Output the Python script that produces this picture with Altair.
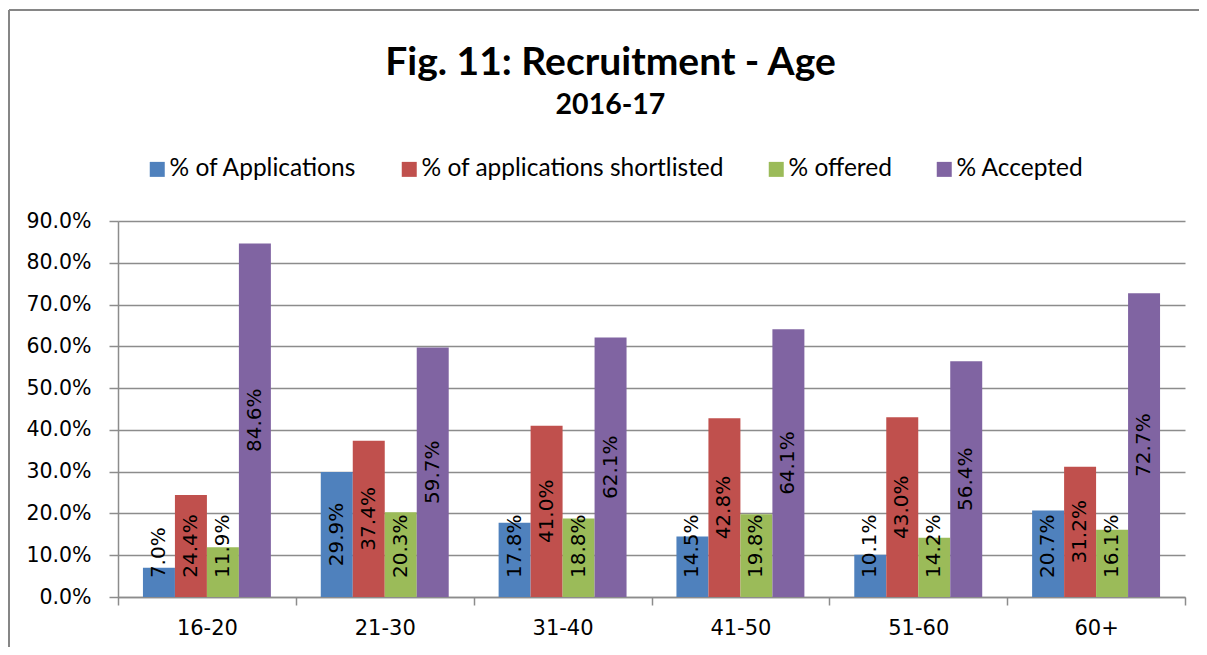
import altair as alt
import pandas as pd

categories = ["16-20", "21-30", "31-40", "41-50", "51-60", "60+"]
series_names = ["% of Applications", "% of applications shortlisted", "% offered", "% Accepted"]
applications = [7.0, 29.9, 17.8, 14.5, 10.1, 20.7]
shortlisted = [24.4, 37.4, 41.0, 42.8, 43.0, 31.2]
offered = [11.9, 20.3, 18.8, 19.8, 14.2, 16.1]
accepted = [84.6, 59.7, 62.1, 64.1, 56.4, 72.7]
colors = ["#4F81BD", "#C0504D", "#9BBB59", "#8064A2"]

rows = []
for s_idx, (name, vals) in enumerate(zip(series_names, [applications, shortlisted, offered, accepted])):
    for c, v in zip(categories, vals):
        rows.append({"age": c, "series": name, "order": s_idx, "value": v, "label": f"{v:.1f}%"})
df = pd.DataFrame(rows)

GRID = "#8c8c8c"
W, H = 1067, 376

x_enc = alt.X("age:N", sort=categories, title=None,
              scale=alt.Scale(paddingInner=0, paddingOuter=0),
              axis=alt.Axis(labelAngle=0, labelFont="DejaVu Sans", labelFontSize=21,
                            labelColor="black", tickBand="extent", tickSize=8,
                            tickColor=GRID, tickWidth=1.5, domainColor=GRID,
                            domainWidth=1.5, labelPadding=12, grid=False))
xoff = alt.XOffset("series:N", sort=series_names,
                   scale=alt.Scale(paddingInner=0, paddingOuter=0.78))

bars = alt.Chart(df).mark_bar().encode(
    x=x_enc,
    xOffset=xoff,
    y=alt.Y("value:Q", title=None,
            scale=alt.Scale(domain=[0, 90], nice=False),
            axis=alt.Axis(values=[0, 10, 20, 30, 40, 50, 60, 70, 80, 90],
                          labelExpr="format(datum.value, '.1f') + '%'",
                          labelFont="DejaVu Sans", labelFontSize=20.5, labelColor="black",
                          tickSize=9, tickColor=GRID, tickWidth=1.5,
                          domainColor=GRID, domainWidth=1.5,
                          gridColor=GRID, gridWidth=1.5, labelPadding=18)),
    color=alt.Color("series:N", sort=series_names,
                    scale=alt.Scale(domain=series_names, range=colors),
                    legend=alt.Legend(title=None, orient="none", direction="horizontal",
                                      legendX=27, legendY=-64, symbolType="square",
                                      symbolSize=225, symbolStrokeWidth=0,
                                      labelFont="Lato", labelFontSize=24.5,
                                      labelColor="black", labelLimit=500,
                                      columnPadding=40, labelOffset=0)),
)

labels = alt.Chart(df).transform_calculate(
    ypos="max(datum.value / 2, length(datum.label) > 4 ? 12.15 : 10.6)"
).mark_text(angle=270, align="center", baseline="middle", font="DejaVu Sans",
            fontSize=20, color="black").encode(
    x=alt.X("age:N", sort=categories),
    xOffset=xoff,
    y=alt.Y("ypos:Q"),
    text="label:N",
)

frame_top = alt.Chart(df).mark_rule(color="#868686", strokeWidth=1.5).encode(
    x=alt.value(-109), x2=alt.value(1400), y=alt.value(-211)
)
frame_left = alt.Chart(df).mark_rule(color="#868686", strokeWidth=1.5).encode(
    x=alt.value(-109), y=alt.value(-211), y2=alt.value(700)
)

chart = alt.layer(frame_top, frame_left, bars, labels).properties(
    width=W, height=H,
    title=alt.TitleParams(text="Fig. 11: Recruitment - Age", subtitle="2016-17",
                          font="Lato", fontSize=39, fontWeight="bold", color="black",
                          subtitleFont="Lato", subtitleFontSize=28.5,
                          subtitleFontWeight="bold", subtitleColor="black",
                          anchor="middle", frame="group", dx=-41, offset=-110,
                          subtitlePadding=8),
    padding={"left": 110, "top": 213, "right": 14, "bottom": 50},
    autosize=alt.AutoSizeParams(type="none"),
).configure_view(stroke=None)

chart.save("out.html", embed_options={"renderer": "svg", "actions": False})
